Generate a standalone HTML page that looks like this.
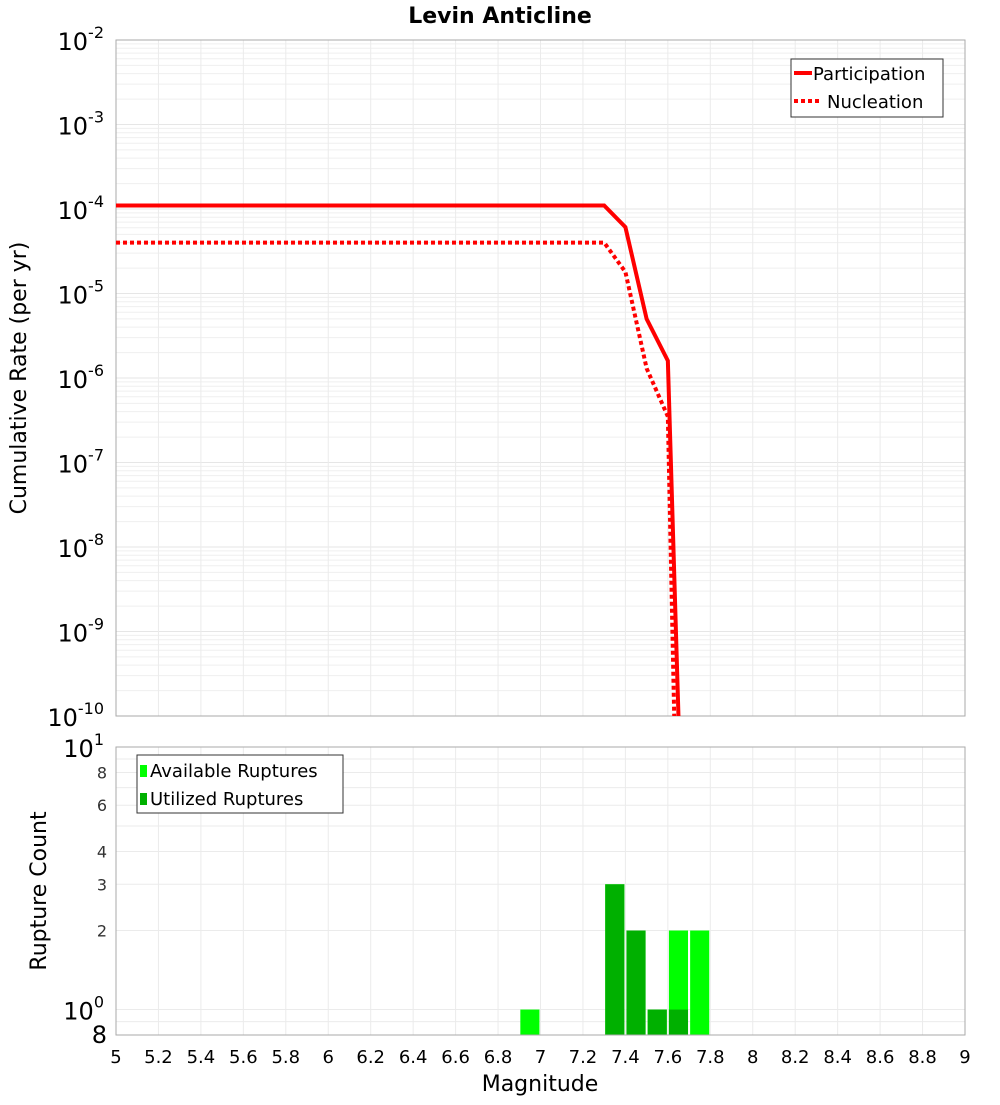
<!DOCTYPE html>
<html><head><meta charset="utf-8"><style>
body{margin:0;background:#fff;font-family:"Liberation Sans","DejaVu Sans",sans-serif}
svg text{font-family:"DejaVu Sans","Liberation Sans",sans-serif}
</style></head><body>
<svg id="c" width="1000" height="1100" xmlns="http://www.w3.org/2000/svg">
<rect width="1000" height="1100" fill="#fff"/>
<text x="500" y="23" text-anchor="middle" font-size="22" font-weight="bold">Levin Anticline</text>
<g id="top"></g><g id="bot"></g>
<text transform="translate(26,378) rotate(-90)" text-anchor="middle" font-size="22">Cumulative Rate (per yr)</text>
<text transform="translate(46,891) rotate(-90)" text-anchor="middle" font-size="22">Rupture Count</text>
<text x="540" y="1091" text-anchor="middle" font-size="22">Magnitude</text>
</svg>
<script>
const partMags=[5,7.3,7.4,7.5,7.6,7.65];
const partRates=[1.1e-4,1.1e-4,6.1e-5,5e-6,1.6e-6,1e-10];
const nuclMags=[5,7.3,7.4,7.5,7.6,7.63];
const nuclRates=[4e-5,4e-5,1.8e-5,1.3e-6,3.5e-7,1e-10];
const binCenters=[6.95,7.35,7.45,7.55,7.65,7.75];
const availCounts=[1,3,2,1,2,2];
const usedCounts=[0,3,2,1,1,0];
const xTicks=[5,5.2,5.4,5.6,5.8,6,6.2,6.4,6.6,6.8,7,7.2,7.4,7.6,7.8,8,8.2,8.4,8.6,8.8,9];
const topExps=[-2,-3,-4,-5,-6,-7,-8,-9,-10];
const botTicks=[8,6,4,3,2];

const NS="http://www.w3.org/2000/svg";
const X0=116,X1=965,TY0=40,TY1=716,BY0=747,BY1=1035;
const xs=m=>X0+(m-5)/4*(X1-X0);
const yt=v=>TY0+(-2-Math.log10(v))/8*(TY1-TY0);
const bmin=Math.log10(0.8);
const yb=v=>BY1-(Math.log10(v)-bmin)/(1-bmin)*(BY1-BY0);
function mk(p,tag,a){const e=document.createElementNS(NS,tag);for(const k in a)e.setAttribute(k,a[k]);p.appendChild(e);return e;}
const topG=document.getElementById('top'),botG=document.getElementById('bot');
for(let e=-10;e<-2;e++)for(let k=1;k<10;k++){const y=yt(k*Math.pow(10,e));
const l=mk(topG,'line',{x1:X0,x2:X1,y1:y,y2:y,stroke:k==1?'#e6e6e6':'#efefef','stroke-width':1});

}
xTicks.forEach(m=>{const x=xs(m);
const l=mk(topG,'line',{x1:x,x2:x,y1:TY0,y2:TY1,stroke:'#ebebeb'});


const l2=mk(botG,'line',{x1:x,x2:x,y1:BY0,y2:BY1,stroke:'#ebebeb'});


const t=mk(botG,'text',{x:x,y:1063,'text-anchor':'middle','font-size':18});t.textContent=String(m);

});
mk(topG,'rect',{x:X0,y:TY0,width:X1-X0,height:TY1-TY0,fill:'none',stroke:'#aaa'});
function line(mags,rates,dash,name){const pts=mags.map((m,i)=>xs(m)+','+Math.min(TY1+5,yt(rates[i]))).join(' ');
const p=mk(topG,'polyline',{points:pts,fill:'none',stroke:'#f00','stroke-width':4,'stroke-dasharray':dash||'none'});

}
line(nuclMags,nuclRates,'4,3','nucleation-line');
line(partMags,partRates,null,'participation-line');
mk(topG,'rect',{x:0,y:TY1+1,width:1000,height:BY0-TY1-2,fill:'#fff'});
topExps.forEach(e=>{const y=yt(Math.pow(10,e));
const t=mk(topG,'text',{x:104,y:y+10,'text-anchor':'end','font-size':24});
t.innerHTML='10<tspan dy="-12" font-size="16">'+e+'</tspan>';

});
const lg=mk(topG,'g',{});


mk(lg,'rect',{x:791,y:59,width:152,height:58,fill:'#fff',stroke:'#333'});
mk(lg,'line',{x1:794,x2:812,y1:73,y2:73,stroke:'#f00','stroke-width':4});
mk(lg,'line',{x1:794,x2:822,y1:101,y2:101,stroke:'#f00','stroke-width':4,'stroke-dasharray':'4,3'});
let lt=mk(lg,'text',{x:813,y:80,'font-size':18});lt.textContent='Participation';
lt=mk(lg,'text',{x:827,y:108,'font-size':18});lt.textContent='Nucleation';
for(let i=9;i<=100;i+=(i<10?1:10)){const v=i/10;const y=yb(v);
const l=mk(botG,'line',{x1:X0,x2:X1,y1:y,y2:y,stroke:'#ebebeb'});

}
botTicks.forEach(v=>{const t=mk(botG,'text',{x:107,y:yb(v)+6,'text-anchor':'end','font-size':16,fill:'#333'});t.textContent=String(v);

});
let bt=mk(botG,'text',{x:104,y:yb(10)+10,'text-anchor':'end','font-size':24});bt.innerHTML='10<tspan dy="-12" font-size="16">1</tspan>';
bt=mk(botG,'text',{x:104,y:yb(1)+10,'text-anchor':'end','font-size':24});bt.innerHTML='10<tspan dy="-12" font-size="16">0</tspan>';
bt=mk(botG,'text',{x:107,y:1043,'text-anchor':'end','font-size':24});bt.textContent='8';
binCenters.forEach((c,i)=>{const x=xs(c-0.045),w=xs(c+0.045)-x;
if(availCounts[i]>0){const r=mk(botG,'rect',{x:x,y:yb(availCounts[i]),width:w,height:BY1-yb(availCounts[i]),fill:'#00ff00'});

}
if(usedCounts[i]>0){const r=mk(botG,'rect',{x:x,y:yb(usedCounts[i]),width:w,height:BY1-yb(usedCounts[i]),fill:'#00b000'});

}});
mk(botG,'rect',{x:X0,y:BY0,width:X1-X0,height:BY1-BY0,fill:'none',stroke:'#aaa'});
const lb=mk(botG,'g',{});


mk(lb,'rect',{x:137,y:755,width:206,height:58,fill:'#fff',stroke:'#333'});
mk(lb,'rect',{x:140,y:765,width:7,height:12,fill:'#00ff00'});
mk(lb,'rect',{x:140,y:793,width:7,height:12,fill:'#00b000'});
lt=mk(lb,'text',{x:150,y:777,'font-size':18});lt.textContent='Available Ruptures';
lt=mk(lb,'text',{x:150,y:805,'font-size':18});lt.textContent='Utilized Ruptures';
</script>
</body></html>
